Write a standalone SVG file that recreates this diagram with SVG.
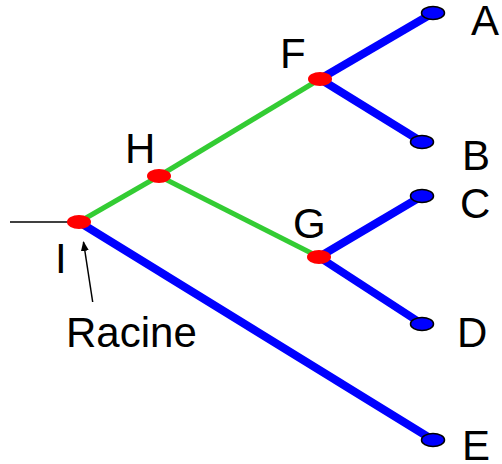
<svg xmlns="http://www.w3.org/2000/svg" width="502" height="464" viewBox="0 0 502 464">
<style>
.b{stroke:#0000ff;stroke-width:8;fill:none}
.g{stroke:#33cc33;stroke-width:5;fill:none}
.int{fill:#ff0000}
.leaf{fill:#0000ff;stroke:#000;stroke-width:1.5}
text{font-family:"Liberation Sans",Arial,sans-serif;font-size:42px;fill:#000}
</style>
<defs>
<marker id="ah" markerWidth="10" markerHeight="10" refX="9" refY="5" orient="auto" markerUnits="userSpaceOnUse">
<path d="M0,1 L10,5 L0,9 z" fill="#000"/>
</marker>
</defs>
<g id="connectors">
<line x1="10" y1="222" x2="79" y2="222" stroke="#000" stroke-width="1.5"/>
<line class="g" x1="79" y1="222" x2="159" y2="176"/>
<line class="g" x1="159" y1="176" x2="320" y2="79"/>
<line class="g" x1="159" y1="176" x2="319" y2="257"/>
<line class="b" x1="79" y1="222" x2="433" y2="440"/>
<line class="b" x1="320" y1="79" x2="433" y2="13"/>
<line class="b" x1="320" y1="79" x2="422" y2="142"/>
<line class="b" x1="319" y1="257" x2="422" y2="196"/>
<line class="b" x1="319" y1="257" x2="422" y2="324"/>
<line x1="92.7" y1="302" x2="83.5" y2="242" stroke="#000" stroke-width="1.5" marker-end="url(#ah)"/>
</g>
<g id="I"><ellipse class="int" cx="79" cy="222" rx="12" ry="7"/><text x="55" y="273">I</text></g>
<g id="H"><ellipse class="int" cx="159" cy="176" rx="12" ry="7"/><text x="125" y="163">H</text></g>
<g id="F"><ellipse class="int" cx="320" cy="79" rx="12" ry="7"/><text x="280" y="68">F</text></g>
<g id="G"><ellipse class="int" cx="319" cy="257" rx="12" ry="7"/><text x="293" y="238">G</text></g>
<g id="A"><ellipse class="leaf" cx="433" cy="13" rx="11.5" ry="6.5"/><text x="471" y="35">A</text></g>
<g id="B"><ellipse class="leaf" cx="422" cy="142" rx="11.5" ry="6.5"/><text x="462" y="170">B</text></g>
<g id="C"><ellipse class="leaf" cx="422" cy="196" rx="11.5" ry="6.5"/><text x="460" y="218">C</text></g>
<g id="D"><ellipse class="leaf" cx="422" cy="324" rx="11.5" ry="6.5"/><text x="457" y="347">D</text></g>
<g id="E"><ellipse class="leaf" cx="433" cy="440" rx="11.5" ry="6.5"/><text x="462" y="460">E</text></g>
<g id="Racine"><text x="66" y="347">Racine</text></g>
</svg>
